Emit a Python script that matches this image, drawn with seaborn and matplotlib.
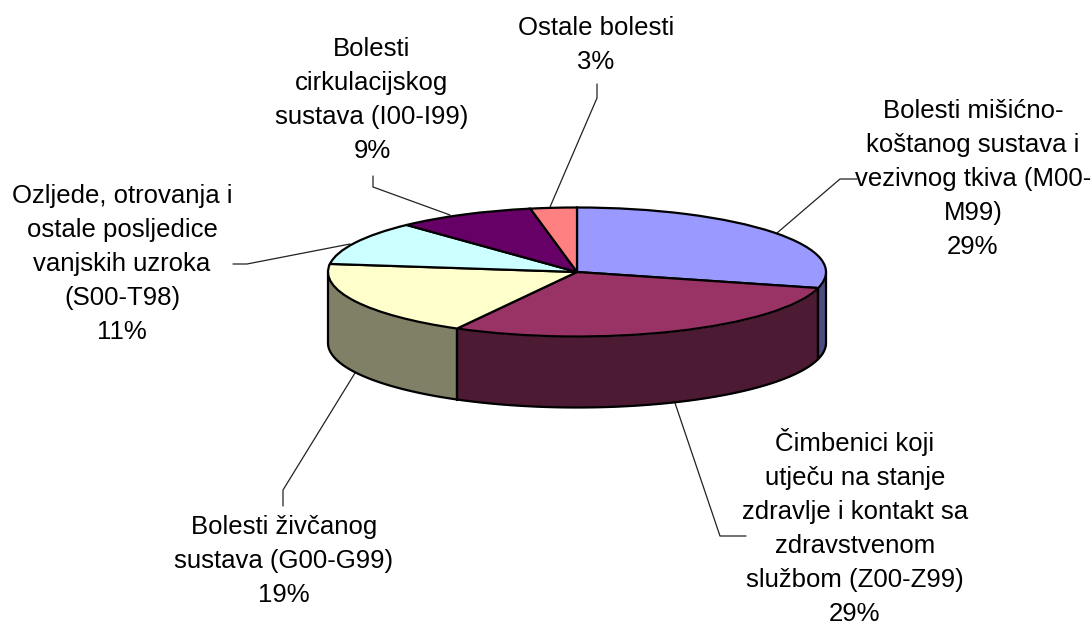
import numpy as np
import matplotlib
matplotlib.use("Agg")
import matplotlib.pyplot as plt
from matplotlib.transforms import Affine2D
import seaborn as sns

categories = [
    "Bolesti mišićno-\nkoštanog sustava i\nvezivnog tkiva (M00-\nM99)",
    "Čimbenici koji\nutječu na stanje\nzdravlje i kontakt sa\nzdravstvenom\nslužbom (Z00-Z99)",
    "Bolesti živčanog\nsustava (G00-G99)",
    "Ozljede, otrovanja i\nostale posljedice\nvanjskih uzroka\n(S00-T98)",
    "Bolesti\ncirkulacijskog\nsustava (I00-I99)",
    "Ostale bolesti",
]
values = [29, 29, 19, 11, 9, 3]
top_colors = ["#9999FF", "#993366", "#FFFFCC", "#CCFFFF", "#660066", "#FF8080"]
side_colors = ["#4C4C80", "#4C1A33", "#808066", "#668080", "#330033", "#804040"]
label_pos = [(973, 179), (855, 527), (284, 561), (122, 264), (372, 100), (596, 45)]
leaders = [
    [(777, 233), (840, 179), (857, 179)],
    [(675, 403), (720, 536), (746, 536)],
    [(355, 373), (283, 490), (283, 506)],
    [(350, 244), (247, 264), (233, 264)],
    [(450, 215), (373, 187), (373, 176)],
    [(550, 207), (597, 98), (597, 84)],
]

W, H = 1092, 626
cx, cy, rx, ry, depth = 577, 272, 249, 64.5, 71

sns.set_theme(style="white")
plt.rcParams["font.family"] = ["Liberation Sans", "DejaVu Sans"]

fig = plt.figure(figsize=(W / 100, H / 100), dpi=100)
ax = fig.add_axes([0, 0, 1, 1])
px = Affine2D().scale(1, -1).translate(0, H)  # reference pixels -> display

# side walls, from the same values as the top face
edges = 90 - np.cumsum([0] + values) * 3.6
d = depth / ry
for start, end, col in zip(edges[:-1], edges[1:], side_colors):
    lo, hi = max(end, -180), min(start, 0)
    if lo >= hi:
        continue
    t = np.radians(np.linspace(lo, hi, 120))
    ax.fill_between(np.cos(t), np.sin(t), np.sin(t) - d, color=col, lw=0, zorder=1)
    ax.plot(np.cos(t), np.sin(t) - d, color="black", lw=1.6, zorder=2)
    for x_t in (lo, hi):
        if x_t not in (0, -180):
            r = np.radians(x_t)
            ax.plot([np.cos(r)] * 2, [np.sin(r), np.sin(r) - d], color="black", lw=1.6, zorder=2)
for sign in (-1, 1):
    ax.plot([sign, sign], [0, -d], color="black", lw=1.6, zorder=2)

wedges, _ = ax.pie(values, colors=top_colors, startangle=90, counterclock=False,
                   radius=1, center=(0, 0),
                   wedgeprops=dict(edgecolor="black", linewidth=1.6))
for w in wedges:
    w.set_zorder(3)
ax.set_aspect("auto")
ax.set_xlim(-cx / rx, (W - cx) / rx)
ax.set_ylim((cy - H) / ry, cy / ry)
ax.axis("off")

pcts = [f"{v}%" for v in values]
for cat, pct, (x, y) in zip(categories, pcts, label_pos):
    ax.text(x, y, f"{cat}\n{pct}", transform=px,
            ha="center", va="center", ma="center", fontsize=18.5, color="black", linespacing=1.52, zorder=5)
for pts in leaders:
    xs, ys = zip(*pts)
    ax.plot(xs, ys, transform=px, color="#222222", lw=0.9, zorder=0, clip_on=False)

fig.savefig("out.png", dpi=100, facecolor="white")
